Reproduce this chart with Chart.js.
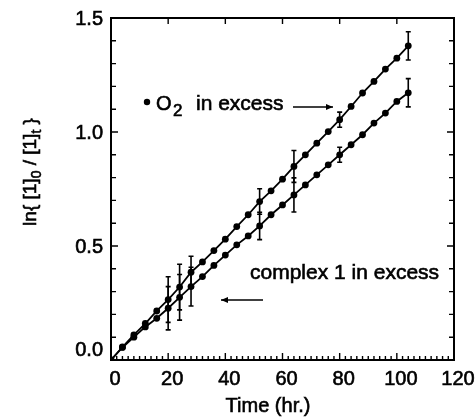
<!DOCTYPE html>
<html>
<head>
<meta charset="utf-8">
<script src="https://cdn.jsdelivr.net/npm/chart.js@4"></script>
<style>
  body { margin: 0; background: #fff; }
  #wrap { width: 476px; height: 419px; }
</style>
</head>
<body>
<div id="wrap"><canvas id="kinChart" width="476" height="419"></canvas></div>
<script>
  // data
  const times = [0, 4, 8, 12, 16, 20, 24, 28, 32, 36, 40, 44, 48, 52, 56, 60, 64, 68, 72, 76, 80, 84, 88, 92, 96, 100, 104];
  const o2Excess = [0, 0.057, 0.11, 0.16, 0.215, 0.265, 0.32, 0.385, 0.43, 0.48, 0.53, 0.585, 0.637, 0.695, 0.742, 0.793, 0.849, 0.9, 0.951, 1.002, 1.054, 1.112, 1.171, 1.222, 1.276, 1.324, 1.378];
  const complexExcess = [0, 0.055, 0.1, 0.145, 0.183, 0.227, 0.275, 0.322, 0.366, 0.415, 0.46, 0.505, 0.544, 0.588, 0.637, 0.68, 0.724, 0.768, 0.812, 0.856, 0.9, 0.944, 0.988, 1.039, 1.083, 1.134, 1.172];

  // error bars (+/-) at a few times
  const errTimes = [20, 24, 28, 52, 64, 80, 104];
  const o2Err = [0.1, 0.1, 0.07, 0.056, 0.07, 0.033, 0.062];
  const complexErr = [0.095, 0.1, 0.085, 0.06, 0.075, 0.033, 0.062];

  const xTicks = [0, 20, 40, 60, 80, 100, 120];
  const yTicks = [0.0, 0.5, 1.0, 1.5];

  const FONT = "'Liberation Sans', Arial, Helvetica, sans-serif";

  function toPts(ys) {
    return times.map((t, i) => ({ x: t, y: ys[i] }));
  }

  function valAt(t, ys) {
    return ys[times.indexOf(t)];
  }

  // scanned print looks heavy, so fill + thin stroke
  function heavyText(ctx, s, x, y) {
    ctx.fillText(s, x, y);
    ctx.strokeText(s, x, y);
  }

  function arrow(ctx, x1, y, x2) {
    // line from x1 to x2, head at x2
    const dir = x2 > x1 ? 1 : -1;
    ctx.beginPath();
    ctx.moveTo(x1, y);
    ctx.lineTo(x2, y);
    ctx.stroke();
    ctx.beginPath();
    ctx.moveTo(x2, y);
    ctx.lineTo(x2 - dir * 7, y - 3);
    ctx.lineTo(x2 - dir * 7, y + 3);
    ctx.closePath();
    ctx.fill();
  }

  const framePlugin = {
    id: 'framePlugin',
    beforeDraw(chart) {
      const ctx = chart.ctx;
      ctx.save();
      ctx.fillStyle = '#fff';
      ctx.fillRect(0, 0, chart.width, chart.height);
      ctx.restore();
    },
    afterDatasetsDraw(chart) {
      const ctx = chart.ctx;
      const xs = chart.scales.x, ys = chart.scales.y;
      const a = chart.chartArea;
      ctx.save();
      ctx.strokeStyle = '#000';
      ctx.fillStyle = '#000';

      // error bars
      ctx.lineWidth = 1.6;
      const series = [[o2Excess, o2Err], [complexExcess, complexErr]];
      series.forEach(([vals, errs]) => {
        errTimes.forEach((t, i) => {
          const v = valAt(t, vals);
          const px = xs.getPixelForValue(t);
          const top = ys.getPixelForValue(v + errs[i]);
          const bot = ys.getPixelForValue(v - errs[i]);
          ctx.beginPath();
          ctx.moveTo(px, top); ctx.lineTo(px, bot);
          ctx.moveTo(px - 2.5, top); ctx.lineTo(px + 2.5, top);
          ctx.moveTo(px - 2.5, bot); ctx.lineTo(px + 2.5, bot);
          ctx.stroke();
        });
      });

      // frame
      ctx.lineWidth = 2;
      ctx.strokeRect(a.left, a.top, a.right - a.left, a.bottom - a.top);

      // ticks
      ctx.lineWidth = 1.4;
      ctx.beginPath();
      for (let t = 0; t <= 120; t += 2) {
        const px = xs.getPixelForValue(t);
        const major = t % 20 === 0;
        ctx.moveTo(px, a.bottom);
        ctx.lineTo(px, a.bottom - (major ? 7 : 4));
        if (major) {
          ctx.moveTo(px, a.top);
          ctx.lineTo(px, a.top + 6);
        }
      }
      for (let k = 0; k <= 15; k++) {
        const py = ys.getPixelForValue(k / 10);
        const len = k % 5 === 0 ? 7 : 5;
        ctx.moveTo(a.left, py); ctx.lineTo(a.left + len, py);
        ctx.moveTo(a.right, py); ctx.lineTo(a.right - len, py);
      }
      ctx.stroke();

      // tick labels
      ctx.lineWidth = 0.6;
      ctx.font = '20px ' + FONT;
      ctx.textAlign = 'center';
      ctx.textBaseline = 'middle';
      xTicks.forEach(t => {
        heavyText(ctx, String(t), xs.getPixelForValue(t) + 4, a.bottom + 19);
      });
      ctx.textAlign = 'right';
      yTicks.forEach(v => {
        const py = ys.getPixelForValue(v) + (v === 0 ? -10 : 1);
        heavyText(ctx, v.toFixed(1), a.left - 8, py);
      });

      // axis titles
      ctx.textAlign = 'center';
      heavyText(ctx, 'Time (hr.)', 268, 406);

      ctx.save();
      ctx.translate(29, 172);
      ctx.rotate(-Math.PI / 2);
      ctx.textAlign = 'left';
      ctx.textBaseline = 'alphabetic';
      const big = '19px ' + FONT, small = '14px ' + FONT;
      const parts = [['ln{ [1]', big, 0], ['0', small, 5], [' / [1]', big, 0], ['t', small, 5], [' }', big, 0]];
      let w = 0;
      parts.forEach(p => { ctx.font = p[1]; w += ctx.measureText(p[0]).width; });
      let cx = -w / 2;
      parts.forEach(p => {
        ctx.font = p[1];
        heavyText(ctx, p[0], cx, 7 + p[2]);
        cx += ctx.measureText(p[0]).width;
      });
      ctx.restore();

      // annotations
      ctx.textAlign = 'left';
      ctx.textBaseline = 'alphabetic';
      ctx.beginPath();
      ctx.arc(147, 102, 3.2, 0, Math.PI * 2);
      ctx.fill();
      ctx.font = '20px ' + FONT;
      heavyText(ctx, 'O', 156, 110);
      ctx.font = '17px ' + FONT;
      heavyText(ctx, '2', 173, 116);
      ctx.font = '21px ' + FONT;
      heavyText(ctx, 'in excess', 196, 110);
      heavyText(ctx, 'complex 1 in excess', 250, 279);

      ctx.lineWidth = 1.4;
      arrow(ctx, 293, 107, 333);
      arrow(ctx, 263, 300, 221);

      ctx.restore();
    }
  };

  const config = {
    type: 'line',
    data: {
      datasets: [
        {
          label: 'O2 in excess',
          data: toPts(o2Excess),
          borderColor: '#000',
          backgroundColor: '#000',
          borderWidth: 1.8,
          pointRadius: 3.4,
          pointBorderWidth: 0,
          pointBackgroundColor: '#000',
          tension: 0
        },
        {
          label: 'complex 1 in excess',
          data: toPts(complexExcess),
          borderColor: '#000',
          backgroundColor: '#000',
          borderWidth: 1.8,
          pointRadius: 3.4,
          pointBorderWidth: 0,
          pointBackgroundColor: '#000',
          tension: 0
        }
      ]
    },
    options: {
      responsive: false,
      animation: false,
      devicePixelRatio: 1,
      layout: { padding: { left: 0, top: 18, right: 22, bottom: 0 } },
      plugins: { legend: { display: false }, tooltip: { enabled: false } },
      scales: {
        x: {
          type: 'linear', min: 0, max: 120,
          grid: { display: false }, border: { display: false },
          ticks: { display: false, stepSize: 20 },
          afterFit(scale) { scale.height = 59; }
        },
        y: {
          type: 'linear', min: 0, max: 1.5,
          grid: { display: false }, border: { display: false },
          ticks: { display: false, stepSize: 0.5 },
          afterFit(scale) { scale.width = 111; }
        }
      }
    },
    plugins: [framePlugin]
  };

  const myChart = new Chart(document.getElementById('kinChart'), config);
</script>
</body>
</html>
